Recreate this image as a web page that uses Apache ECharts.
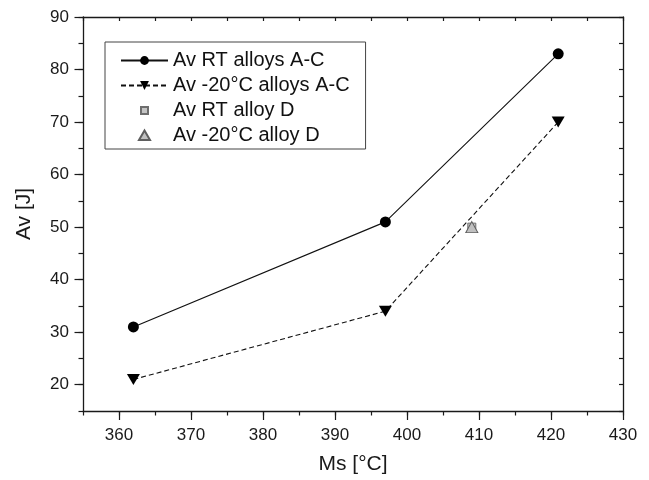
<!DOCTYPE html>
<html><head><meta charset="utf-8">
<script src="https://cdn.jsdelivr.net/npm/echarts@6/dist/echarts.min.js"></script>
<style>html,body{margin:0;padding:0;background:#fff}#c{width:649px;height:480px}</style>
</head><body><div id="c"></div><script>
// Data
const msAC = [362, 397, 421];
const avRT_AC = [31, 51, 83];
const avM20_AC = [21, 34, 70];
const msD = [409];
const avRT_D = [50];
const avM20_D = [50];
const xTickLabels = [360, 370, 380, 390, 400, 410, 420, 430];
const yTickLabels = [20, 30, 40, 50, 60, 70, 80, 90];
const names = ['Av RT alloys A-C', 'Av -20°C alloys A-C', 'Av RT alloy D', 'Av -20°C alloy D'];

const FONT = '"Liberation Sans", Arial, sans-serif';
const AX = '#1a1a1a';
const X_MIN = 355, X_MAX = 430, Y_MIN = 15, Y_MAX = 90;

function pairs(xs, ys) { return xs.map((x, i) => [x, ys[i]]); }

const chart = echarts.init(document.getElementById('c'), null, {renderer: 'canvas'});
const lineAx = {show: true, onZero: false, lineStyle: {color: AX, width: 1.3}};

chart.setOption({
  animation: false,
  backgroundColor: '#fff',
  grid: {left: 83, right: 26, top: 17, bottom: 67, containLabel: false},
  legend: {
    orient: 'vertical', left: 105, top: 42,
    itemWidth: 47, itemHeight: 11, itemGap: 0,
    padding: [6, 16, 1, 15],
    borderColor: '#444', borderWidth: 1,
    selectedMode: false,
    textStyle: {fontSize: 20, lineHeight: 25, color: '#111', fontFamily: FONT},
    data: [
      {name: names[0]},
      {name: names[1]},
      {name: names[2], icon: 'path://M0,0M11,11M2,2L9,2L9,9L2,9Z'},
      {name: names[3], icon: 'path://M0,0M11,11M5.5,0.5L11,10L0,10Z'}
    ]
  },
  xAxis: [
    {type: 'value', position: 'bottom', min: X_MIN, max: X_MAX, interval: 5,
     axisLine: lineAx, axisTick: {show: true, length: 4.5, lineStyle: {color: AX, width: 1.2}},
     axisLabel: {show: false}, splitLine: {show: false}},
    {type: 'value', position: 'bottom', min: X_MIN, max: X_MAX,
     axisLine: {show: false, onZero: false},
     axisTick: {show: true, length: 9, customValues: xTickLabels, lineStyle: {color: AX, width: 1.2}},
     axisLabel: {show: true, customValues: xTickLabels, fontSize: 17, margin: 16, color: '#1a1a1a', fontFamily: FONT},
     splitLine: {show: false},
     name: 'Ms [°C]', nameLocation: 'middle', nameGap: 43,
     nameTextStyle: {fontSize: 21, color: '#1a1a1a', fontFamily: FONT}},
    {type: 'value', position: 'top', min: X_MIN, max: X_MAX, interval: 5,
     axisLine: lineAx, axisTick: {show: true, inside: true, length: 4, lineStyle: {color: AX, width: 1.2}},
     axisLabel: {show: false}, splitLine: {show: false}}
  ],
  yAxis: [
    {type: 'value', position: 'left', min: Y_MIN, max: Y_MAX, interval: 5,
     axisLine: lineAx, axisTick: {show: true, length: 4.5, lineStyle: {color: AX, width: 1.2}},
     axisLabel: {show: false}, splitLine: {show: false}},
    {type: 'value', position: 'left', min: Y_MIN, max: Y_MAX,
     axisLine: {show: false, onZero: false},
     axisTick: {show: true, length: 8.5, customValues: yTickLabels, lineStyle: {color: AX, width: 1.2}},
     axisLabel: {show: true, customValues: yTickLabels, fontSize: 17, margin: 14, color: '#1a1a1a', fontFamily: FONT},
     splitLine: {show: false},
     name: 'Av [J]', nameLocation: 'middle', nameGap: 48,
     nameTextStyle: {fontSize: 21, color: '#1a1a1a', fontFamily: FONT}},
    {type: 'value', position: 'right', min: Y_MIN, max: Y_MAX, interval: 5,
     axisLine: lineAx, axisTick: {show: true, inside: true, length: 4, lineStyle: {color: AX, width: 1.2}},
     axisLabel: {show: false}, splitLine: {show: false}}
  ],
  series: [
    {name: names[0], type: 'line', xAxisIndex: 0, yAxisIndex: 0,
     data: pairs(msAC, avRT_AC), symbol: 'circle', symbolSize: 11,
     itemStyle: {color: '#000'}, lineStyle: {color: '#111', width: 1.1}, z: 3},
    {name: names[1], type: 'line', xAxisIndex: 0, yAxisIndex: 0,
     data: pairs(msAC, avM20_AC), symbol: 'triangle', symbolRotate: 180, symbolSize: [13, 11],
     itemStyle: {color: '#000'}, lineStyle: {color: '#111', width: 1.1, type: [5, 3]}, z: 3},
    {name: names[2], type: 'scatter', xAxisIndex: 0, yAxisIndex: 0,
     data: pairs(msD, avRT_D), symbol: 'rect', symbolSize: 8,
     itemStyle: {color: '#c4c4c4', borderColor: '#6e6e6e', borderWidth: 1, opacity: 1}, z: 4},
    {name: names[3], type: 'scatter', xAxisIndex: 0, yAxisIndex: 0,
     data: pairs(msD, avM20_D), symbol: 'triangle', symbolSize: [12, 11],
     itemStyle: {color: '#c0c0c0', borderColor: '#5e5e5e', borderWidth: 1, opacity: 1}, z: 5}
  ]
});
</script></body></html>
